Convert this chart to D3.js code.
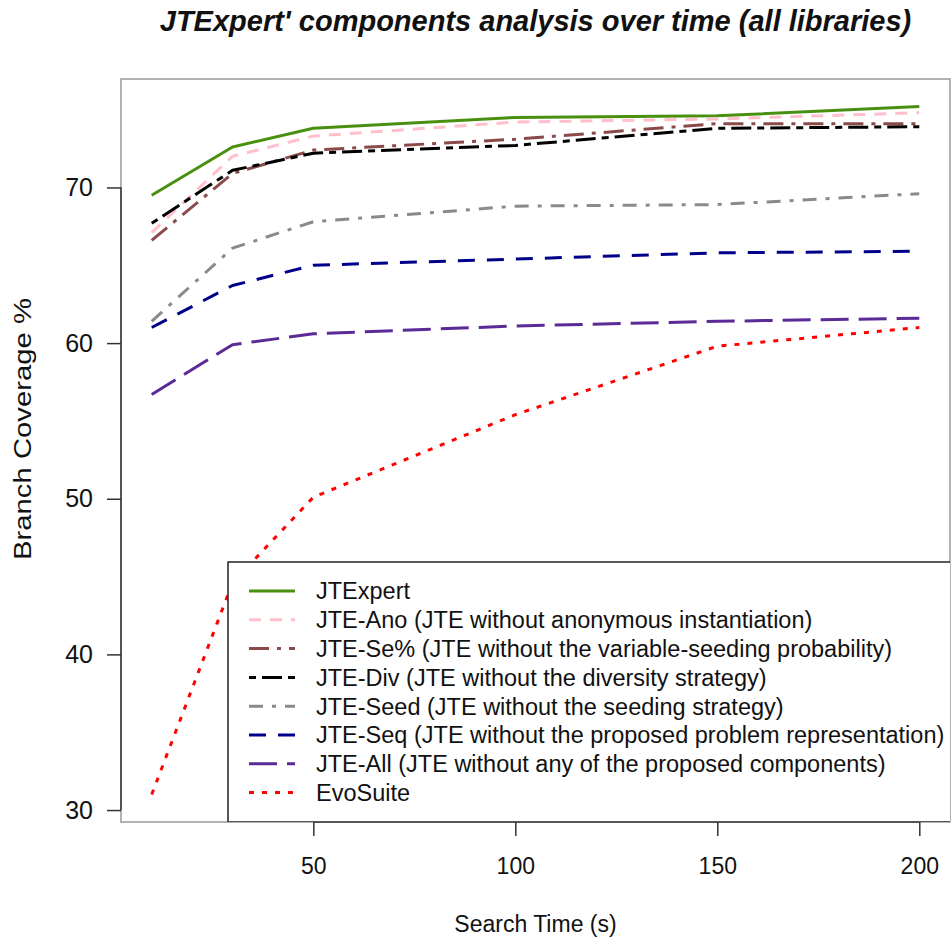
<!DOCTYPE html>
<html>
<head>
<meta charset="utf-8">
<script src="https://cdn.jsdelivr.net/npm/d3@7"></script>
<style>
  body { margin: 0; background: #fff; }
  svg text { font-family: "Liberation Sans", Arial, Helvetica, sans-serif; fill: #111; }
</style>
</head>
<body>
<script>
// search times (s)
var times = [10, 30, 50, 100, 150, 200];

// branch coverage % per configuration
var jtexpert = [69.5, 72.6, 73.8, 74.5, 74.6, 75.2];
var jteAno   = [67.1, 72.0, 73.3, 74.2, 74.4, 74.8];
var jteSe    = [66.6, 70.9, 72.4, 73.1, 74.1, 74.1];
var jteDiv   = [67.7, 71.1, 72.2, 72.7, 73.8, 73.9];
var jteSeed  = [61.4, 66.1, 67.8, 68.8, 68.9, 69.6];
var jteSeq   = [61.0, 63.7, 65.0, 65.4, 65.8, 65.9];
var jteAll   = [56.7, 59.9, 60.6, 61.1, 61.4, 61.6];
var evosuite = [31.0, 44.6, 50.1, 55.4, 59.8, 61.0];

var seriesNames = [
    "JTExpert",
    "JTE-Ano (JTE without anonymous instantiation)",
    "JTE-Se% (JTE without the variable-seeding probability)",
    "JTE-Div (JTE without the diversity strategy)",
    "JTE-Seed (JTE without the seeding strategy)",
    "JTE-Seq (JTE without the proposed problem representation)",
    "JTE-All (JTE without any of the proposed components)",
    "EvoSuite"
];
var seriesValues = [jtexpert, jteAno, jteSe, jteDiv, jteSeed, jteSeq, jteAll, evosuite];
var seriesColors = ["#4a9010", "#ffc0cb", "#8b4a4a", "#000000", "#8a8a8a", "#00008b", "#5a2a96", "#ff0000"];
var seriesDashes = ["", "12,9", "20,8,4,8", "7,6,20,6", "14,9,4,9", "17,12", "28,10", "5,8"];

var xTicks = [50, 100, 150, 200];
var yTicks = [30, 40, 50, 60, 70];

var W = 952, H = 938;
var box = {left: 121, right: 950, top: 79, bottom: 822};

var svg = d3.select("body").append("svg")
    .attr("width", W)
    .attr("height", H);

// R style: data range padded by 4% on each side
var xr = d3.extent(times), xpad = (xr[1] - xr[0]) * 0.04;
var allVals = d3.merge(seriesValues);
var yr = d3.extent(allVals), ypad = (yr[1] - yr[0]) * 0.04;

var x = d3.scaleLinear().domain([xr[0] - xpad, xr[1] + xpad]).range([box.left, box.right]);
var y = d3.scaleLinear().domain([yr[0] - ypad, yr[1] + ypad]).range([box.bottom, box.top]);

svg.append("defs").append("clipPath").attr("id", "plotclip")
    .append("rect")
    .attr("x", box.left).attr("y", box.top)
    .attr("width", box.right - box.left).attr("height", box.bottom - box.top);

// title
svg.append("text")
    .attr("x", (box.left + box.right) / 2)
    .attr("y", 31)
    .attr("text-anchor", "middle")
    .style("font-size", "29px")
    .style("font-weight", "bold")
    .style("font-style", "italic")
    .text("JTExpert' components analysis over time (all libraries)");

// lines, drawn in legend order
var line = d3.line()
    .x(function(d, i) { return x(times[i]); })
    .y(function(d) { return y(d); });

var lines = svg.append("g").attr("clip-path", "url(#plotclip)");
for (var i = 0; i < seriesValues.length; i++) {
    lines.append("path")
        .datum(seriesValues[i])
        .attr("d", line)
        .attr("fill", "none")
        .attr("stroke", seriesColors[i])
        .attr("stroke-width", 3)
        .attr("stroke-dasharray", seriesDashes[i] || null)
        .attr("stroke-linejoin", "round");
}

// box round plot region
svg.append("rect")
    .attr("x", box.left).attr("y", box.top)
    .attr("width", box.right - box.left).attr("height", box.bottom - box.top)
    .attr("fill", "none")
    .attr("stroke", "#999")
    .attr("stroke-width", 1.5);

// axes
var xAxis = d3.axisBottom(x).tickValues(xTicks).tickSize(14).tickPadding(22);
var gx = svg.append("g").attr("transform", "translate(0," + box.bottom + ")").call(xAxis);
gx.select(".domain").attr("d", "M" + x(xTicks[0]) + ",0H" + x(xTicks[xTicks.length - 1]));
gx.selectAll("text").style("font-size", "23px").attr("fill", "#111");

var yAxis = d3.axisLeft(y).tickValues(yTicks).tickSize(14).tickPadding(14);
var gy = svg.append("g").attr("transform", "translate(" + box.left + ",0)").call(yAxis);
gy.select(".domain").attr("d", "M0," + y(yTicks[0]) + "V" + y(yTicks[yTicks.length - 1]));
gy.selectAll("text").style("font-size", "25px").attr("fill", "#111");
svg.selectAll(".domain, .tick line").attr("stroke", "#333").attr("stroke-width", 1.5);

// axis titles
svg.append("text")
    .attr("x", (box.left + box.right) / 2)
    .attr("y", 932)
    .attr("text-anchor", "middle")
    .style("font-size", "23px")
    .text("Search Time (s)");

svg.append("text")
    .attr("transform", "translate(31,429) rotate(-90)")
    .attr("text-anchor", "middle")
    .attr("textLength", 262)
    .attr("lengthAdjust", "spacingAndGlyphs")
    .style("font-size", "23px")
    .text("Branch Coverage %");

// legend
var legTop = 562, rowH = 28.8;
var leg = svg.append("g").attr("clip-path", "url(#plotclip)");
leg.append("rect")
    .attr("x", 228).attr("y", legTop)
    .attr("width", 760).attr("height", box.bottom - legTop)
    .attr("fill", "#fff")
    .attr("stroke", "#222")
    .attr("stroke-width", 1.5);

seriesNames.forEach(function(name, i) {
    var cy = legTop + 29 + i * rowH;
    leg.append("line")
        .attr("x1", 249).attr("x2", 295)
        .attr("y1", cy).attr("y2", cy)
        .attr("stroke", seriesColors[i])
        .attr("stroke-width", 3)
        .attr("stroke-dasharray", seriesDashes[i] || null);
    leg.append("text")
        .attr("x", 316)
        .attr("y", cy)
        .attr("dy", "0.36em")
        .style("font-size", "23.5px")
        .text(name);
});
</script>
</body>
</html>
